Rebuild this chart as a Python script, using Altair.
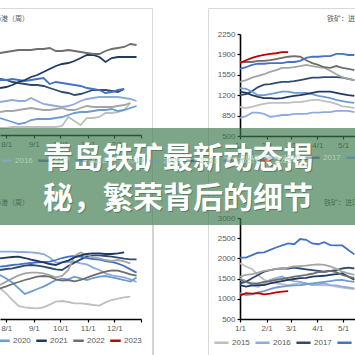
import altair as alt
import pandas as pd

YEARS = ["2015", "2016", "2017", "2018", "2019", "2020", "2021", "2022", "2023"]
COLORS = ["#bfbfbf", "#8faadc", "#2f4b6e", "#4472c4", "#a5a5a5", "#6c9bd2", "#1f3864", "#6e6e6e", "#c00000"]

# ---- left panels: weekly points, day of year (late Jul .. Dec)
days_left = [206, 213, 220, 227, 234, 241, 248, 255, 262, 269, 276, 283,
             290, 297, 304, 311, 318, 325, 332, 339, 346, 353, 360]
left_tick_days = [213, 244, 274, 305, 335, 365]
left_tick_labels = ["8/1", "9/1", "10/1", "11/1", "12/1", ""]

# ---- right panels: weekly points, day of year (Jan .. mid May)
days_right = [1, 8, 15, 22, 29, 36, 43, 50, 57, 64, 71, 78, 85, 92, 99, 106, 113, 120, 127, 134]
right_tick_days = [1, 32, 60, 91, 121]
right_tick_labels = ["1/1", "2/1", "3/1", "4/1", "5/1"]

tl_series = {
    "2015": [11350, 11350, 11400, 11400, 11400, 11400, 11400, 11400, 11400, 11400, 11450, 11900, 11700, 11500, 11850, 11850, 11900, 12100, 12100, 12150, 12250, 12600],
    "2016": [12650, 12700, 12750, 12700, 12700, 12850, 12700, 12550, 12500, 12450, 12400, 12450, 12550, 12700, 12800, 12850, 12900, 12900, 12900, 12900, 12850, 12800, 12700],
    "2017": [13800, 13750, 13650, 13600, 13550, 13500, 13500, 13450, 13350, 13250, 13150, 13100, 13000, 13050, 13150, 13250, 13250, 13250, 13200, 13150, 13300],
    "2018": [13750, 13750, 13800, 13750, 13700, 13750, 13800, 13850, 13550, 13650, 13600, 13550, 13500, 13450, 13350, 13300, 13250, 13100, 13150, 13250, 13300],
    "2019": [12150, 12200, 12200, 12250, 12300, 12350, 12300, 12250, 12250, 12300, 12350, 12250, 12250, 12350, 12450, 12400, 12400, 12400, 12400, 12450, 12500, 12600],
    "2020": [11850, 11750, 11650, 11550, 11600, 11750, 11800, 11800, 11800, 11850, 11900, 12000, 12100, 12150, 12150, 12200, 12250, 12250, 12300, 12200, 12250, 12350, 12450],
    "2021": [13350, 13400, 13500, 13650, 13750, 13900, 14000, 14150, 14300, 14450, 14550, 14600, 14700, 14850, 15000, 15000, 14900, 14650, 14850, 14900, 14900, 14900, 14900],
    "2022": [15100, 15150, 15200, 15250, 15250, 15250, 15300, 15300, 15350, 15200, 15200, 15250, 15200, 15150, 15100, 15050, 15050, 15200, 15300, 15350, 15400, 15550, 15500],
}

bl_series = {
    "2015": [12530, 12280, 11950, 11650, 11580, 11550, 11530, 11580, 11720, 11870, 11900, 11850, 11780, 11780, 11750, 11700, 11670, 11830, 11950, 12020, 12080, 12120],
    "2016": [14370, 14370, 14370, 14350, 14350, 14330, 14300, 14250, 14080, 13820, 13830, 13850, 13870, 13780, 13730, 13570, 13450, 13280, 13180, 13130, 13080, 12980, 12850],
    "2017": [13450, 13500, 13530, 13600, 13670, 13700, 13670, 13620, 13550, 13480, 13450, 13650, 13820, 13980, 14120, 14180, 14180, 14150, 14120, 14070, 14020, 13980, 13980],
    "2018": [13620, 13650, 13700, 13730, 13770, 13800, 13830, 13850, 13870, 13950, 14050, 14120, 14150, 14120, 14050, 14000, 13970, 13900, 13850, 13770, 13650, 13480, 13320],
    "2019": [12700, 12870, 13030, 13180, 13280, 13320, 13320, 13280, 13200, 13080, 13150, 13450, 14150, 14330, 14200, 14080, 14030, 13950, 13900, 13950, 13880, 13780],
    "2020": [13200, 13030, 12820, 12530, 12250, 12370, 12500, 12620, 12780, 12950, 13020, 12980, 13120, 13030, 12950, 13050, 13120, 13150, 13080, 13020, 12950, 12870, 13080],
    "2021": [14030, 14070, 14100, 14120, 14050, 13970, 13900, 13830, 13750, 13700, 13830, 13920, 14080, 14180, 14250, 14280, 14280, 14250, 14250, 14280, 14330],
    "2022": [12530, 12630, 12750, 12850, 12950, 13030, 13120, 13150, 13120, 12980, 12920, 12950, 12880, 12950, 13070, 13180, 13280, 13370, 13430, 13420, 13330, 13230, 13170],
}

tr_series = {
    "2015": [1000, 980, 1000, 1030, 1050, 1070, 1070, 1070, 1070, 1080, 1080, 1100, 1120, 1120, 1100, 1080, 1050, 1010, 1000, 980],
    "2016": [810, 840, 900, 900, 880, 830, 840, 860, 860, 880, 880, 880, 900, 900, 910, 910, 930, 930, 930, 910],
    "2017": [1200, 1220, 1270, 1340, 1380, 1390, 1410, 1430, 1430, 1440, 1460, 1480, 1500, 1500, 1510, 1510, 1510, 1500, 1480, 1460],
    "2018": [1650, 1680, 1720, 1740, 1740, 1750, 1750, 1750, 1770, 1770, 1790, 1840, 1860, 1860, 1870, 1870, 1910, 1910, 1890, 1890],
    "2019": [1430, 1460, 1500, 1530, 1560, 1600, 1630, 1670, 1670, 1680, 1700, 1720, 1700, 1680, 1670, 1620, 1560, 1510, 1480, 1460],
    "2020": [1320, 1310, 1260, 1200, 1200, 1220, 1240, 1260, 1260, 1240, 1240, 1240, 1220, 1190, 1170, 1150, 1120, 1100, 1080, 1070],
    "2021": [1260, 1240, 1200, 1170, 1150, 1150, 1140, 1150, 1170, 1190, 1200, 1220, 1240, 1260, 1260, 1260, 1240, 1220, 1200, 1190],
    "2022": [1770, 1770, 1770, 1790, 1790, 1800, 1820, 1840, 1860, 1870, 1860, 1800, 1750, 1720, 1680, 1670, 1700, 1670, 1650, 1630],
    "2023": [1750, 1800, 1840, 1870, 1890, 1910, 1920, 1940, 1940],
}

br_series = {
    "2015": [1880, 1800, 1740, 1590, 1470, 1420, 1380, 1360, 1340, 1360, 1380, 1380, 1360, 1340, 1330, 1330, 1300, 1280, 1260, 1240],
    "2016": [1510, 1440, 1330, 1300, 1380, 1470, 1510, 1550, 1470, 1440, 1420, 1380, 1340, 1360, 1380, 1340, 1330, 1300, 1280, 1260],
    "2017": [1380, 1420, 1510, 1590, 1670, 1710, 1740, 1750, 1750, 1770, 1750, 1730, 1710, 1690, 1670, 1690, 1710, 1750, 1770, 1750],
    "2018": [2020, 2020, 2080, 2140, 2150, 2210, 2270, 2320, 2370, 2350, 2480, 2460, 2370, 2350, 2400, 2330, 2320, 2320, 2210, 2100],
    "2019": [1550, 1590, 1610, 1650, 1690, 1710, 1740, 1750, 1770, 1800, 1810, 1820, 1840, 1850, 1840, 1800, 1740, 1670, 1630, 1590],
    "2020": [1140, 1090, 1110, 1160, 1190, 1240, 1280, 1300, 1320, 1330, 1340, 1360, 1380, 1400, 1420, 1440, 1460, 1470, 1440, 1420],
    "2021": [1340, 1300, 1330, 1340, 1340, 1380, 1410, 1440, 1470, 1490, 1510, 1520, 1550, 1560, 1570, 1590, 1610, 1630, 1550, 1470],
    "2022": [1470, 1410, 1380, 1380, 1420, 1440, 1470, 1490, 1520, 1550, 1570, 1590, 1620, 1660, 1670, 1690, 1660, 1590, 1550, 1510],
    "2023": [1080, 1140, 1130, 1140, 1110, 1130, 1160, 1180, 1190],
}

tr_y_ticks = [500, 850, 1200, 1550, 1900, 2250]
br_y_ticks = [500, 1000, 1500, 2000, 2500, 3000]

titles_left = "库存：45港（周）"
titles_right = "铁矿：进口铁矿港口库存"
banner_line1 = "青岛铁矿最新动态揭"
banner_line2 = "秘，繁荣背后的细节"

FONT_NUM = "Liberation Sans"
FONT_CJK = "Noto Sans CJK SC"


def long_table(days, series):
    rows = []
    for yr, vals in series.items():
        for d, v in zip(days, vals):
            rows.append({"year": yr, "day": d, "value": v})
    return pd.DataFrame(rows)


def label_expr(days, labels):
    labs = ",".join("'%s'" % s for s in labels)
    ds = ",".join(str(d) for d in days)
    return "[%s][indexof([%s], datum.value)]" % (labs, ds)


def axis_common(**kw):
    base = dict(title=None, grid=False, domainColor="#000000", domainWidth=1.6,
                tickColor="#000000", tickSize=3, tickWidth=1.2, labelFontSize=8,
                labelColor="#595959", labelFont=FONT_NUM, labelPadding=2,
                labelOverlap=False, labelFlush=False)
    base.update(kw)
    return alt.Axis(**base)


def panel(days, series, x_dom, x_rng, x_off, tick_days, tick_labels,
          y_dom, y_rng, y_ticks, legend_kw):
    df = long_table(days, series)
    x = alt.X("day:Q",
              scale=alt.Scale(domain=x_dom, range=x_rng, nice=False, zero=False),
              axis=axis_common(orient="bottom", offset=x_off, values=tick_days,
                               labelExpr=label_expr(tick_days, tick_labels)))
    if y_ticks is None:
        yax = None
    else:
        yax = axis_common(orient="left", offset=-240, values=y_ticks, format="d",
                          labelPadding=2)
    y = alt.Y("value:Q", scale=alt.Scale(domain=y_dom, range=y_rng, nice=False, zero=False),
              axis=yax)
    leg = dict(orient="none", direction="horizontal", title=None, symbolType="stroke",
               symbolSize=110, symbolStrokeWidth=2.5, labelFontSize=8, labelFont=FONT_NUM,
               labelColor="#595959", labelOffset=2, padding=0, columnPadding=0)
    leg.update(legend_kw)
    color = alt.Color("year:N", scale=alt.Scale(domain=YEARS, range=COLORS),
                      legend=alt.Legend(**leg))
    return alt.Chart(df).mark_line(strokeWidth=1.8, clip=True).encode(x=x, y=y, color=color)


tl = panel(days_left, tl_series, [206, 365], [0, 141], -220, left_tick_days, left_tick_labels,
           [11000, 16000], [135, 35], None,
           dict(legendX=-37, legendY=154, labelColor="#b3d0ba", symbolOpacity=0.45))
bl = panel(days_left, bl_series, [206, 365], [0, 141], -36, left_tick_days, left_tick_labels,
           [11000, 16000], [319, 219], None,
           dict(legendX=-187, legendY=334))
tr = panel(days_right, tr_series, [1, 135], [240, 355.2], -219, right_tick_days, right_tick_labels,
           [500, 2250], [136, 34], tr_y_ticks,
           dict(legendX=222, legendY=149, symbolSize=200, labelColor="#b3d0ba", symbolOpacity=0.45))
br = panel(days_right, br_series, [1, 135], [240, 355.2], -36, right_tick_days, right_tick_labels,
           [500, 3000], [319, 218], br_y_ticks,
           dict(legendX=213, legendY=334, symbolSize=200))

one = pd.DataFrame({"k": [1]})

frames = alt.layer(
    alt.Chart(one).mark_rect(fill=None, stroke="#d9d9d9", strokeWidth=1).encode(
        x=alt.value(-5), x2=alt.value(152.5), y=alt.value(8.5), y2=alt.value(400)),
    alt.Chart(one).mark_rect(fill=None, stroke="#d9d9d9", strokeWidth=1).encode(
        x=alt.value(208.5), x2=alt.value(400), y=alt.value(8.5), y2=alt.value(400)),
    alt.Chart(one).mark_rule(stroke="#d4d4d4", strokeWidth=2).encode(
        x=alt.value(153), y=alt.value(225), y2=alt.value(355)),
)


def text_layer(txt, x, y, align, size, color, font, weight="normal", opacity=1.0):
    df = pd.DataFrame({"t": [txt]})
    return alt.Chart(df).mark_text(align=align, baseline="middle", fontSize=size, color=color,
                                   font=font, fontWeight=weight, opacity=opacity).encode(
        text="t:N", x=alt.value(x), y=alt.value(y))


titles = alt.layer(
    text_layer(titles_left, 29, 19, "right", 7, "#595959", FONT_CJK),
    text_layer(titles_right, 327, 19, "left", 7, "#595959", FONT_CJK),
    text_layer(titles_left, 29, 203, "right", 7, "#595959", FONT_CJK),
    text_layer(titles_right, 324, 203, "left", 7, "#595959", FONT_CJK),
)

banner = alt.Chart(one).mark_rect(fill="#3d794c", opacity=0.67).encode(
    x=alt.value(0), x2=alt.value(355), y=alt.value(128), y2=alt.value(225))

btext = alt.layer(
    text_layer(banner_line1, 179, 160, "center", 30, "#2b5535", FONT_CJK, "bold", 0.45),
    text_layer(banner_line2, 179, 200, "center", 30, "#2b5535", FONT_CJK, "bold", 0.45),
    text_layer(banner_line1, 178, 159, "center", 30, "#ffffff", FONT_CJK, "bold"),
    text_layer(banner_line2, 178, 199, "center", 30, "#ffffff", FONT_CJK, "bold"),
)

chart = alt.layer(frames, tl, bl, tr, br, titles, banner, btext).resolve_scale(
    x="independent", y="independent", color="independent"
).properties(
    width=355, height=355, padding=0, background="white",
    autosize=alt.AutoSizeParams(type="none"),
).configure_view(stroke=None)

chart.save("out.html", embed_options={"renderer": "svg", "actions": False})
